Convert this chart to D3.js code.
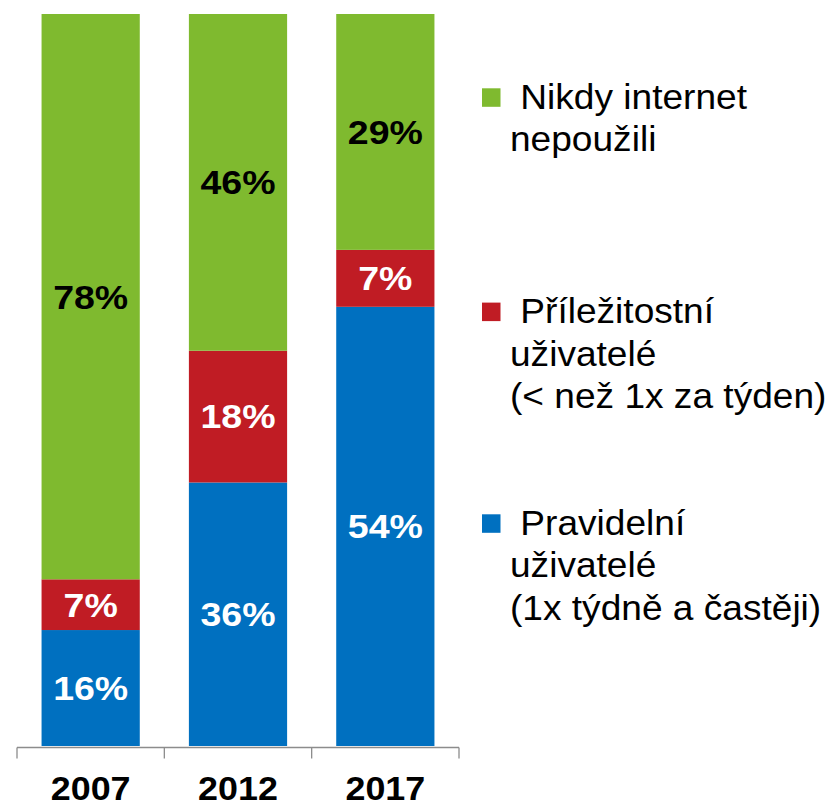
<!DOCTYPE html>
<html>
<head>
<meta charset="utf-8">
<script src="https://cdn.jsdelivr.net/npm/d3@7"></script>
<style>
  html, body { margin: 0; padding: 0; background: #fff; }
  svg { display: block; }
  text { font-family: "Liberation Sans", Arial, sans-serif; }
</style>
</head>
<body>
<svg id="chart" width="834" height="806"></svg>
<script>
// ---- data ----
const years = ["2007", "2012", "2017"];
const seriesNames = ["Pravidelní", "Příležitostní", "Nikdy"];
const pravidelni = [16, 36, 54];      // blue (bottom)
const prilezitostni = [7, 18, 7];     // red (middle)
const nikdy = [78, 46, 29];           // green (top)
const seriesColors = ["#0070c0", "#c01c24", "#7fba2f"];
const labelColors = ["#ffffff", "#ffffff", "#000000"];
const legendLines = [
  [" Nikdy internet", "nepoužili"],
  [" Příležitostní", "uživatelé", "(< než 1x za týden)"],
  [" Pravidelní", "uživatelé", "(1x týdně a častěji)"]
];
const legendColors = ["#7fba2f", "#c01c24", "#0070c0"];

// ---- build table ----
const table = years.map((y, i) => ({
  year: y,
  "Pravidelní": pravidelni[i],
  "Příležitostní": prilezitostni[i],
  "Nikdy": nikdy[i]
}));

const svg = d3.select("#chart");

const x = d3.scaleBand()
  .domain(years)
  .range([17, 459])
  .paddingInner(1 / 3)
  .paddingOuter(1 / 6);

const y = d3.scaleLinear().domain([0, 1]).range([746, 14]);

const stack = d3.stack()
  .keys(seriesNames)
  .offset(d3.stackOffsetExpand);
const stacked = stack(table);

// bars
const groups = svg.append("g").selectAll("g")
  .data(stacked)
  .join("g")
  .attr("fill", (d, i) => seriesColors[i]);

groups.selectAll("rect")
  .data(d => d)
  .join("rect")
  .attr("x", d => x(d.data.year))
  .attr("width", x.bandwidth())
  .attr("y", d => y(d[1]))
  .attr("height", d => y(d[0]) - y(d[1]));

// value labels
const lblFs = 33.5, lblSx = 1.12;
stacked.forEach((s, si) => {
  svg.append("g").selectAll("text")
    .data(s)
    .join("text")
    .attr("transform", d => {
      const cx = x(d.data.year) + x.bandwidth() / 2;
      const cy = (y(d[0]) + y(d[1])) / 2 + 0.355 * lblFs;
      return `translate(${cx},${cy}) scale(${lblSx},1)`;
    })
    .attr("text-anchor", "middle")
    .attr("font-size", lblFs)
    .attr("font-weight", "bold")
    .attr("fill", labelColors[si])
    .text(d => d.data[s.key] + "%");
});

// axis
const axisY = 747.5;
const step = x.step();
const bounds = [x.range()[0]].concat(years.map(yr => x(yr) + x.bandwidth() + step * x.paddingInner() / 2));
bounds[bounds.length - 1] = x.range()[1];
const axisG = svg.append("g").attr("stroke", "#8c8c8c").attr("stroke-width", 1.3);
axisG.append("line")
  .attr("x1", x.range()[0]).attr("x2", x.range()[1])
  .attr("y1", axisY).attr("y2", axisY);
axisG.selectAll("line.tick")
  .data(bounds)
  .join("line")
  .attr("class", "tick")
  .attr("x1", d => d).attr("x2", d => d)
  .attr("y1", axisY).attr("y2", axisY + 11);

// year labels
svg.append("g").selectAll("text")
  .data(years)
  .join("text")
  .attr("transform", d => `translate(${x(d) + x.bandwidth() / 2},800) scale(1.055,1)`)
  .attr("text-anchor", "middle")
  .attr("font-size", 34)
  .attr("font-weight", "bold")
  .attr("fill", "#000")
  .text(d => d);

// legend
const legTop = [109, 323.3, 535];
const legLH = 42.3;
const legFs = 35, legSx = 1.06;
legendLines.forEach((lines, i) => {
  const g = svg.append("g");
  g.append("rect")
    .attr("x", 482).attr("y", legTop[i] - 20.7)
    .attr("width", 18.5).attr("height", 18.5)
    .attr("fill", legendColors[i]);
  g.selectAll("text")
    .data(lines)
    .join("text")
    .attr("transform", (d, j) => `translate(510,${legTop[i] + j * legLH}) scale(${legSx},1)`)
    .attr("font-size", legFs)
    .attr("fill", "#000")
    .attr("xml:space", "preserve")
    .style("white-space", "pre")
    .text(d => d);
});
</script>
</body>
</html>
